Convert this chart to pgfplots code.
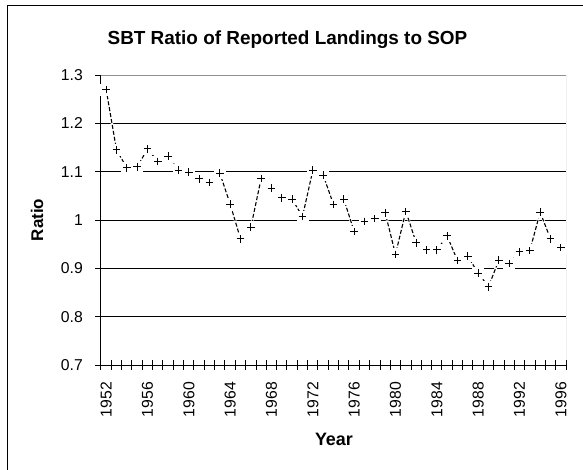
\documentclass[border=0pt]{standalone}
\usepackage{fontspec}
\setmainfont{Liberation Sans}
\usepackage{pgfplots}
\usepackage{pgfplotstable}
\pgfplotsset{compat=1.18}
\pgfplotstableread{
year ratio
1952 1.270
1953 1.145
1954 1.108
1955 1.110
1956 1.147
1957 1.121
1958 1.132
1959 1.103
1960 1.099
1961 1.085
1962 1.078
1963 1.097
1964 1.033
1965 0.961
1966 0.985
1967 1.086
1968 1.066
1969 1.046
1970 1.043
1971 1.007
1972 1.103
1973 1.093
1974 1.032
1975 1.043
1976 0.976
1977 0.997
1978 1.003
1979 1.015
1980 0.929
1981 1.018
1982 0.953
1983 0.938
1984 0.938
1985 0.967
1986 0.916
1987 0.925
1988 0.890
1989 0.862
1990 0.917
1991 0.910
1992 0.934
1993 0.937
1994 1.016
1995 0.961
1996 0.943
}\datatable
\definecolor{bordergray}{HTML}{909090}
\begin{document}
\begin{tikzpicture}
\path[use as bounding box] (0bp,0bp) rectangle (583bp,-470bp);
\draw[line width=1bp] (7bp,-470bp) -- (7bp,-5bp) -- (583bp,-5bp);
\begin{axis}[
  at={(101bp,-75bp)}, anchor=north west,
  width=465bp, height=290bp, scale only axis,
  xmin=1951.5, xmax=1996.5, ymin=0.7, ymax=1.3,
  axis x line*=bottom, axis y line*=left,
  axis line style={line width=1bp, black, -},
  xtick={1952,1956,1960,1964,1968,1972,1976,1980,1984,1988,1992,1996},
  xticklabels={1952,1956,1960,1964,1968,1972,1976,1980,1984,1988,1992,1996},
  major x tick style={draw=none},
  minor xtick={1951.5,1952.5,...,1996.5},
  minor tick length=10bp,
  major tick length=6bp,
  xtick align=center, ytick align=outside,
  minor x tick style={line width=1bp, black},
  ytick={0.7,0.8,0.9,1.0,1.1,1.2,1.3},
  yticklabels={0.7,0.8,0.9,1,1.1,1.2,1.3},
  y tick style={line width=1bp, black},
  ymajorgrids, y grid style={line width=1bp, black},
  tick label style={font=\fontsize{15.8}{18}\selectfont},
  x tick label style={rotate=90, anchor=east, inner sep=0pt},
  xticklabel shift=14bp,
  y tick label style={inner sep=0pt},
  yticklabel shift=12bp,
  title={SBT Ratio of Reported Landings to SOP},
  title style={font=\fontsize{19}{22}\selectfont\bfseries, at={(axis description cs:0.401,1.086)}, anchor=base, inner sep=0pt},
  xlabel={Year},
  every axis x label/.style={font=\fontsize{18}{21}\selectfont\bfseries, at={(axis description cs:0.501,-0.279)}, anchor=base, inner sep=0pt},
  ylabel={Ratio},
  every axis y label/.style={font=\fontsize{17}{20}\selectfont\bfseries, at={(axis description cs:-0.1376,0.5)}, rotate=90, anchor=center, inner sep=0pt},
]
\draw[bordergray, line width=1bp] (rel axis cs:0,1) -- (rel axis cs:1,1) -- (rel axis cs:1,0);
\addplot[white, line width=2.5bp] table[x=year, y=ratio] {\datatable};
\addplot[black, line width=1.1bp, dash pattern=on 4bp off 2bp] table[x=year, y=ratio] {\datatable};
\addplot[white, only marks, mark=square*, mark size=5.5bp, mark options={draw=white, fill=white, line width=0pt}] table[x=year, y=ratio] {\datatable};
\addplot[black, only marks, mark=+, mark size=3.8bp, mark options={black, line width=1bp}] table[x=year, y=ratio] {\datatable};
\end{axis}
\end{tikzpicture}
\end{document}
